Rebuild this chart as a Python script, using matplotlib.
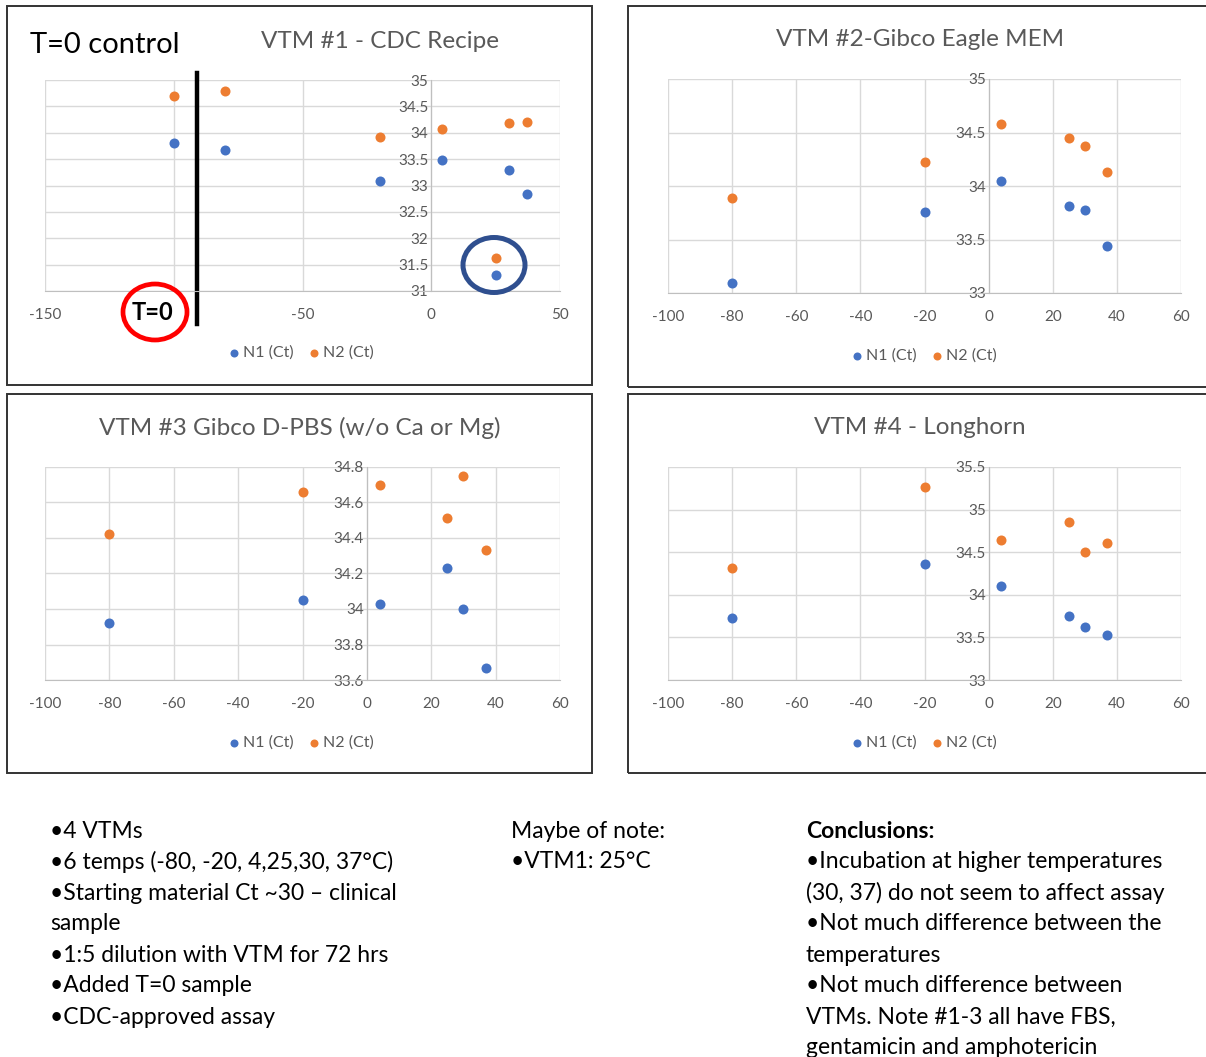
import matplotlib
matplotlib.use("Agg")
import matplotlib.pyplot as plt
from matplotlib.patches import Rectangle, Ellipse
from matplotlib.ticker import FuncFormatter

plt.rcParams['font.family'] = ['Lato', 'DejaVu Sans']
plt.rcParams['axes.unicode_minus'] = False

# ----------------------
# DATA
# ----------------------
temps_vtm1 = [-100, -80, -20, 4, 25, 30, 37]   # -100 = T=0 control
n1_vtm1 = [33.81, 33.68, 33.09, 33.49, 31.30, 33.29, 32.84]
n2_vtm1 = [34.69, 34.79, 33.91, 34.08, 31.63, 34.18, 34.20]

temps = [-80, -20, 4, 25, 30, 37]
n1_vtm2 = [33.09, 33.76, 34.05, 33.81, 33.78, 33.44]
n2_vtm2 = [33.89, 34.22, 34.58, 34.45, 34.37, 34.13]
n1_vtm3 = [33.92, 34.05, 34.03, 34.23, 34.00, 33.67]
n2_vtm3 = [34.42, 34.66, 34.70, 34.51, 34.75, 34.33]
n1_vtm4 = [33.73, 34.36, 34.10, 33.75, 33.62, 33.53]
n2_vtm4 = [34.32, 35.27, 34.64, 34.85, 34.50, 34.61]

titles = ["VTM #1 - CDC Recipe", "VTM #2-Gibco Eagle MEM",
          "VTM #3 Gibco D-PBS (w/o Ca or Mg)", "VTM #4 - Longhorn"]

col1 = ["•4 VTMs", "•6 temps (-80, -20, 4,25,30, 37°C)",
        "•Starting material Ct ~30 – clinical", "sample",
        "•1:5 dilution with VTM for 72 hrs", "•Added T=0 sample",
        "•CDC-approved assay"]
col2 = ["Maybe of note:", "•VTM1: 25°C"]
col3 = ["Conclusions:", "•Incubation at higher temperatures",
        "(30, 37) do not seem to affect assay",
        "•Not much difference between the", "temperatures",
        "•Not much difference between", "VTMs. Note #1-3 all have FBS,",
        "gentamicin and amphotericin"]

BLUE = "#4472C4"
ORANGE = "#ED7D31"
GRID = "#D9D9D9"
TXT = "#595959"

W, H = 1206, 1057
fig = plt.figure(figsize=(W / 100, H / 100), dpi=100)


def fx(px):
    return px / W


def fy(py):
    return 1 - py / H


def box(l, t, r, b):
    fig.add_artist(Rectangle((fx(l), fy(b)), fx(r) - fx(l), fy(t) - fy(b),
                             transform=fig.transFigure, fill=False,
                             edgecolor="#333333", lw=1.4))


def panel(rect_px, x, n1, n2, xlim, xstep, ylim, ystep, title, title_xy, leg_xy,
          hide_x=()):
    l, t, r, b = rect_px
    ax = fig.add_axes([fx(l), fy(b), fx(r) - fx(l), fy(t) - fy(b)])
    ax.scatter(x, n1, s=52, color=BLUE, label="N1 (Ct)", zorder=3, linewidths=0)
    ax.scatter(x, n2, s=52, color=ORANGE, label="N2 (Ct)", zorder=3, linewidths=0)
    ax.set_xlim(*xlim)
    ax.set_ylim(*ylim)
    xt = []
    v = xlim[0]
    while v <= xlim[1] + 1e-9:
        xt.append(v)
        v += xstep
    yt = []
    v = ylim[0]
    while v <= ylim[1] + 1e-9:
        yt.append(round(v, 2))
        v += ystep
    ax.set_xticks(xt)
    ax.set_xticklabels(["" if t in hide_x else f"{t:g}" for t in xt])
    ax.set_yticks(yt)
    ax.yaxis.set_major_formatter(FuncFormatter(lambda val, pos: f"{val:g}"))
    ax.grid(True, color=GRID, lw=1)
    ax.set_axisbelow(True)
    for s in ["top", "right"]:
        ax.spines[s].set_visible(False)
    ax.spines["left"].set_position(("data", 0))
    ax.spines["left"].set_color("#BFBFBF")
    ax.spines["bottom"].set_color("#BFBFBF")
    ax.tick_params(length=0, labelsize=11, colors=TXT)
    ax.tick_params(axis="x", pad=12)
    ax.tick_params(axis="y", pad=2)
    fig.text(fx(title_xy[0]), fy(title_xy[1]), title, ha="center", va="center",
             fontsize=17.5, color=TXT)
    ax.legend(loc="center", bbox_to_anchor=(fx(leg_xy[0]), fy(leg_xy[1])),
              bbox_transform=fig.transFigure, ncol=2, frameon=False,
              fontsize=11.5, markerscale=0.8, handletextpad=0.05,
              columnspacing=0.8, handlelength=1.0, labelcolor=TXT)
    return ax


# panel boxes
box(7, 6, 592, 385)
box(628, 6, 1215, 387)
box(7, 394, 592, 773)
box(628, 394, 1215, 773)

# the -100 label sits under the "T=0" tag on the slide
ax1 = panel((45, 80, 560, 291), temps_vtm1, n1_vtm1, n2_vtm1, (-150, 50), 50,
            (31, 35), 0.5, titles[0], (380, 41), (300, 353), hide_x=(-100,))
ax2 = panel((668, 79, 1181, 293), temps, n1_vtm2, n2_vtm2, (-100, 60), 20,
            (33, 35), 0.5, titles[1], (920, 40), (923, 356))
ax3 = panel((45, 467, 560, 680), temps, n1_vtm3, n2_vtm3, (-100, 60), 20,
            (33.6, 34.8), 0.2, titles[2], (300, 428), (300, 743))
ax4 = panel((668, 467, 1181, 680), temps, n1_vtm4, n2_vtm4, (-100, 60), 20,
            (33, 35.5), 0.5, titles[3], (920, 428), (923, 743))

# ----------------------
# annotations on VTM #1
# ----------------------
fig.text(fx(30), fy(45), "T=0 control", fontsize=21, color="black",
         ha="left", va="center")
ax1.axvline(-91, ymin=-0.155, ymax=1.035, color="black", lw=3.2, clip_on=False)
fig.text(fx(153), fy(312), "T=0", fontsize=17, fontweight="bold", color="black",
         ha="center", va="center", zorder=5,
         bbox=dict(facecolor="white", edgecolor="none", pad=6))
fig.add_artist(Ellipse((fx(155), fy(312)), fx(64), 56 / H,
                       transform=fig.transFigure, fill=False,
                       edgecolor="#FF0000", lw=3.4, zorder=6))
fig.add_artist(Ellipse((fx(494), fy(265)), fx(62), 55 / H,
                       transform=fig.transFigure, fill=False,
                       edgecolor="#2F4F8F", lw=3.6, zorder=6))

# ----------------------
# notes under the charts
# ----------------------
FS = 16.5
for i, line in enumerate(col1):
    fig.text(fx(50), fy(831 + 31 * i), line, fontsize=FS, ha="left", va="center")
for i, line in enumerate(col2):
    fig.text(fx(511), fy(831 + 31 * i), line, fontsize=FS, ha="left", va="center")
for i, line in enumerate(col3):
    fig.text(fx(806), fy(831 + 31 * i), line, fontsize=FS, ha="left", va="center",
             fontweight="bold" if i == 0 else "normal")

fig.savefig("out.png", dpi=100)
